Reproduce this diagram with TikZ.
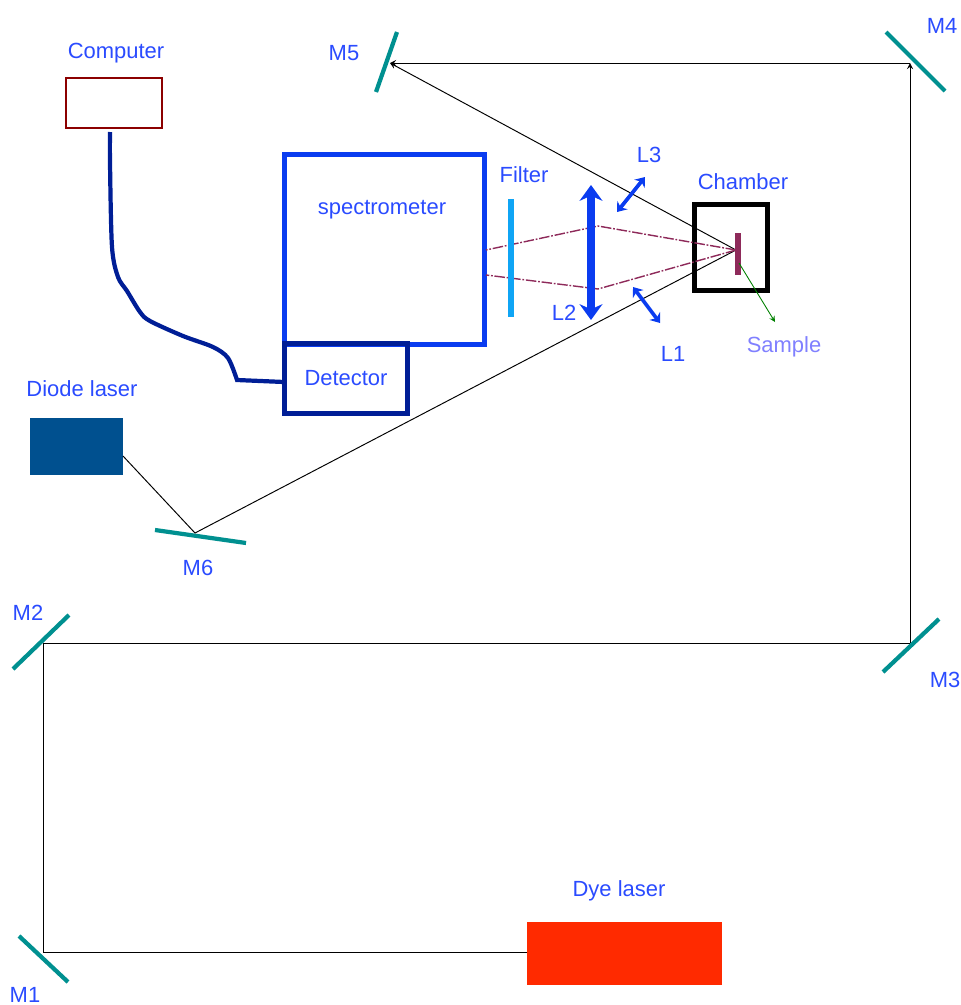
\documentclass[tikz,border=0pt]{standalone}
\usepackage{fontspec}
\usetikzlibrary{arrows.meta}
\setmainfont{Liberation Sans}
\definecolor{labelblue}{HTML}{2A4BFF}
\definecolor{specblue}{HTML}{0A3CF0}
\definecolor{darkblue}{HTML}{001E96}
\definecolor{mirrorteal}{HTML}{009090}
\definecolor{beamred}{HTML}{8E2A5A}
\definecolor{filterblue}{HTML}{0FA5F5}
\begin{document}
\begin{tikzpicture}[x=0.02cm, y=-0.02cm, every node/.style={font=\fontsize{12.5}{14}\selectfont,text=labelblue},
  box/.style={draw,line width=#1,minimum size=0,inner sep=0pt,anchor=north west},
  mirror/.style={mirrorteal,line width=2.4pt},
  beam/.style={black,line width=0.55pt},
  probe/.style={beamred,line width=0.8pt,dash pattern=on 6pt off 1pt on 1pt off 1pt},
  lens/.style={{Stealth[length=5pt,width=7.5pt]}-{Stealth[length=5pt,width=7.5pt]},specblue,line width=2.1pt}]
  \useasboundingbox (0,0) rectangle (961,1005);
  % instruments
  \node[box=1.2pt,draw=red!55!black,minimum width=1.92cm,minimum height=1cm] (computer) at (65,77) {};
  \node[box=2.8pt,draw=specblue,minimum width=4cm,minimum height=3.8cm] (spectrometer) at (282,152) {};
  \node[box=2.6pt,draw=darkblue,minimum width=2.46cm,minimum height=1.4cm] (detector) at (282,341) {};
  \node[box=2.8pt,draw=black,minimum width=1.47cm,minimum height=1.72cm] (chamber) at (692,202) {};
  \node[box=0pt,draw=none,fill={rgb,255:red,0;green,80;blue,143},minimum width=1.86cm,minimum height=1.14cm] (diode) at (30,418) {};
  \node[box=0pt,draw=none,fill={rgb,255:red,255;green,42;blue,0},minimum width=3.9cm,minimum height=1.26cm] (dye) at (527,922) {};
  % beam points
  \coordinate (m1) at (43,952);
  \coordinate (m2) at (43,643);
  \coordinate (m3) at (910,643);
  \coordinate (m4) at (910,63);
  \coordinate (m5) at (390,63);
  \coordinate (m6) at (195,533);
  \coordinate (spot) at (736,250);
  % mirrors
  \draw[mirror] (19,936) -- (68,982);
  \draw[mirror] (13,669) -- (69,615);
  \draw[mirror] (883,672) -- (939,619);
  \draw[mirror] (886,32) -- (945,91);
  \draw[mirror] (397,32) -- (376,92);
  \draw[mirror] (155,530) -- (246,543);
  % laser paths
  \draw[beam] (m1 -| dye.west) -- (m1) -- (m2) -- (m3);
  \draw[beam,->,>=stealth] (m3) -- (m4);
  \draw[beam,->,>=stealth] (m4) -- (m5);
  \draw[beam,->,>=stealth] (spot) -- (m5);
  \draw[beam] (123,456) -- (m6) -- (spot);
  % collection optics
  \draw[probe] (spot) -- (598,226) -- (486,250);
  \draw[probe] (spot) -- (598,289) -- (486,275);
  \draw[filterblue,line width=3pt] (511,199) -- (511,317);
  \draw[lens,{Stealth[length=9pt,width=13pt]}-{Stealth[length=9pt,width=13pt]},line width=4.4pt] (591,185) -- (591,320);
  \draw[lens] (617,212) -- (645,177);
  \draw[lens] (633,287) -- (660,323);
  \draw[beamred,line width=3.2pt] (738,233) -- (738,275);
  \draw[->,>=stealth,green!50!black,line width=0.5pt] (739,263) -- (775,322);
  % fibre
  \draw[darkblue,line width=2.4pt] plot[smooth,tension=0.5] coordinates {(110,132) (110,163) (112,247) (118,277) (127,291) (140,312) (150,321) (183,336) (213,347) (228,358) (237,380)} -- (284,382);
  % labels
  \node (computerlabel) at (116,53) {Computer};
  \node (speclabel) at (382,210) {spectrometer};
  \node (detectorlabel) at (346,378) {Detector};
  \node (filterlabel) at (524,175) {Filter};
  \node (chamberlabel) at (743,182) {Chamber};
  \node[text=blue!50!white] (samplelabel) at (784,347) {Sample};
  \node (diodelabel) at (82,389) {Diode laser};
  \node (dyelabel) at (619,891) {Dye laser};
  \node (l1label) at (673,354) {L1};
  \node (l2label) at (564,313) {L2};
  \node (l3label) at (649,155) {L3};
  \node (m1label) at (25,995) {M1};
  \node (m2label) at (28,613) {M2};
  \node (m3label) at (945,680) {M3};
  \node (m4label) at (942,26) {M4};
  \node (m5label) at (344,53) {M5};
  \node (m6label) at (198,568) {M6};
\end{tikzpicture}
\end{document}
